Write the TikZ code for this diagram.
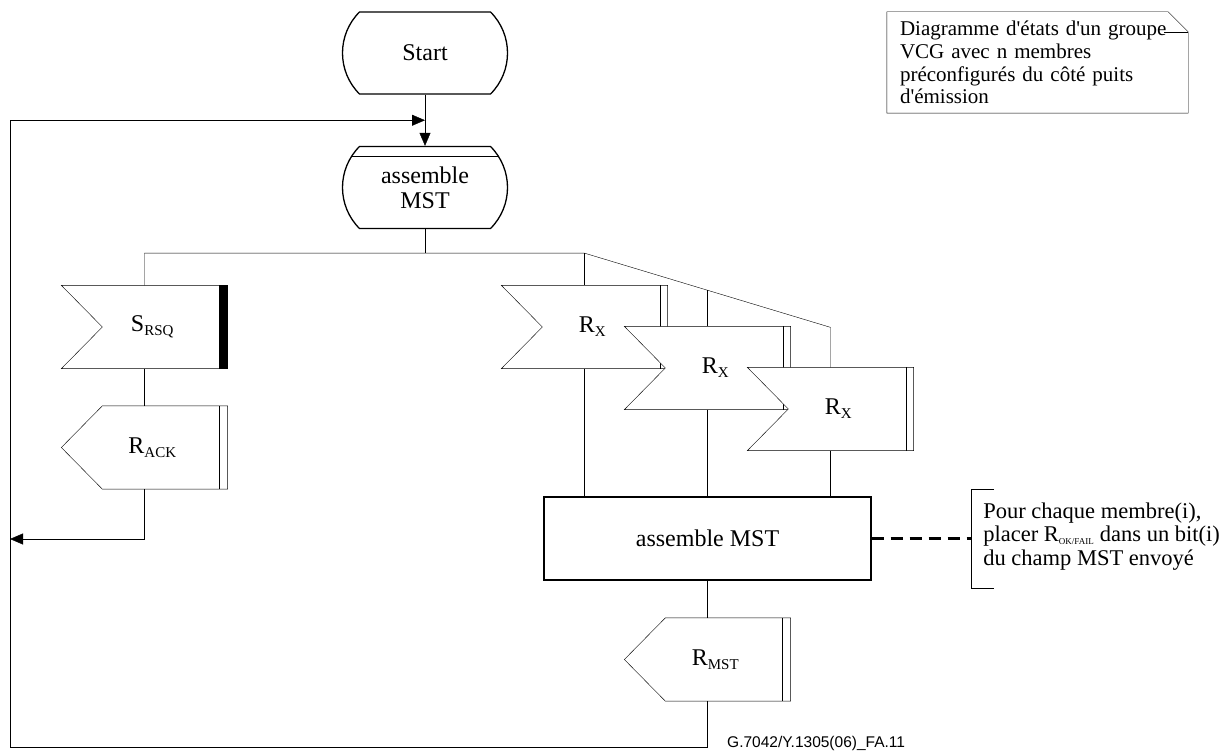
\documentclass[tikz,border=0pt]{standalone}
\usepackage{fontspec}
\setmainfont{Liberation Serif}
\setsansfont{Liberation Sans}
\usetikzlibrary{arrows.meta, calc, positioning, shapes.misc, backgrounds}

\newcommand\lowtext[1]{\textsubscript{\fontsize{15}{15}\selectfont #1}}
\newcommand\apos{\textquotesingle}

\begin{document}
\begin{tikzpicture}[x=1pt, y=-1pt, line width=1.3pt,
	state/.style={rounded rectangle, rounded rectangle arc length=90, draw, fill=white,
		minimum width=165pt, minimum height=82pt, inner sep=0pt, align=center,
		font=\fontsize{24}{25}\selectfont},
	sig/.style={minimum width=165pt, minimum height=82pt, inner sep=0pt,
		execute at begin node=\hspace*{16pt}, font=\fontsize{24}{26}\selectfont},
	task/.style={draw, fill=white, minimum width=327pt, minimum height=83pt, inner sep=0pt,
		font=\fontsize{24}{26}\selectfont},
	flow/.style={-{Triangle[length=13pt, width=11pt]}},
	notetext/.style={text width=275pt, inner xsep=13pt, minimum height=101pt, align=left,
		font=\fontsize{21}{22.7}\selectfont},
	cmttext/.style={inner sep=0pt, align=left, font=\fontsize{22.5}{23.5}\selectfont}]
	\useasboundingbox (0,0) rectangle (1220,751);

	% main column
	\node[state] (start) at (425,53) {Start};
	\node[state, path picture={\draw ([yshift=-10pt]path picture bounding box.north west)
		-- ([yshift=-10pt]path picture bounding box.north east);}] (asm1) at (425,187.5) {assemble\\MST};

	% signals
	\node[sig] (srsq) at (144.5,327) {S\lowtext{RSQ}};
	\node[sig] (rack) at (144.5,447.5) {R\lowtext{ACK}};
	\node[sig] (rx1) at (584.5,327) {R\lowtext{X}};
	\node[sig] (rx2) at (707.5,368) {R\lowtext{X}};
	\node[sig] (rx3) at (830.5,409) {R\lowtext{X}};
	\node[task] (asm2) at (707.5,538.5) {assemble MST};
	\node[sig] (rmst) at (707.5,659.5) {R\lowtext{MST}};

	\begin{pgfonlayer}{background}
		\foreach \n in {rx1,rx2,rx3} {
			\draw[fill=white] (\n.north west) -- (\n.north east) -- (\n.south east) -- (\n.south west)
				-- ($(\n.west)+(41,0)$) -- cycle;
			\draw ($(\n.north east)+(-7,0)$) -- ($(\n.south east)+(-7,0)$);
		}
		\draw[fill=white] (srsq.north west) -- (srsq.north east) -- (srsq.south east) -- (srsq.south west)
			-- ($(srsq.west)+(41,0)$) -- cycle;
		\fill ($(srsq.north east)+(-9,0)$) rectangle (srsq.south east);
		\foreach \n in {rack,rmst} {
			\draw[fill=white] ($(\n.north west)+(41,0)$) -- (\n.north east) -- (\n.south east)
				-- ($(\n.south west)+(41,0)$) -- (\n.west) -- cycle;
			\draw ($(\n.north east)+(-8,0)$) -- ($(\n.south east)+(-8,0)$);
		}
	\end{pgfonlayer}

	% connectors
	\coordinate (merge) at ($(start.south)!0.5!(asm1.north)$);
	\coordinate (bus) at ($(asm1.south)+(0,24)$);
	\coordinate (kink) at (rx1.north |- bus);
	\coordinate (slant) at ($(rx3.north)+(0,-40)$);
	\coordinate (ackret) at (10,539);
	\coordinate (loopcorner) at (10,747);
	\draw[flow] (start.south) -- (asm1.north);
	\draw (asm1.south) -- (bus);
	\draw (srsq.north) |- (bus) -- (kink) -- (slant) -- (rx3.north);
	\draw (kink) -- (rx1.north);
	\draw ($(kink)!0.5!(slant)$) -- (rx2.north);
	\draw (srsq.south) -- (rack.north);
	\draw[flow] (rack.south) |- (ackret);
	\foreach \n in {rx1,rx2,rx3}
		\draw (\n.south) -- (\n.south |- asm2.north);
	\draw (asm2.south) -- (rmst.north);
	\draw[flow] (rmst.south) |- (loopcorner) |- (merge);

	% comment
	\coordinate (brk) at ($(asm2.east)+(99.5,0)$);
	\draw[line width=2.2pt, dash pattern=on 12pt off 7pt] (asm2.east) -- (brk);
	\draw ($(brk)+(23,-49.5)$) -- ($(brk)+(0,-49.5)$) -- ($(brk)+(0,49.5)$) -- ($(brk)+(23,49.5)$);
	\node[cmttext, anchor=west] (cmt) at ($(brk)+(12,-2)$) {Pour chaque membre(i),\\placer R\textsubscript{\fontsize{9}{9}\selectfont OK/FAIL} dans un bit(i)\\du champ MST envoy\'e};

	% note
	\node[notetext] (note) at (1037.5,62.5) {Diagramme d\apos\'etats d\apos un groupe\\VCG avec n membres\\pr\'econfigur\'es du c\^ot\'e puits\\d\apos\'emission};
	\draw (note.north west) -- ($(note.north east)+(-20,0)$) -- ($(note.north east)+(0,20)$)
		-- (note.south east) -- (note.south west) -- cycle;
	\draw ($(note.north east)+(-24,20)$) -- ($(note.north east)+(0,20)$);

	\node[anchor=west, inner sep=0pt, font=\sffamily\fontsize{15.5}{16}\selectfont] (fig) at (727,743) {G.7042/Y.1305(06)\_FA.11};
\end{tikzpicture}
\end{document}
